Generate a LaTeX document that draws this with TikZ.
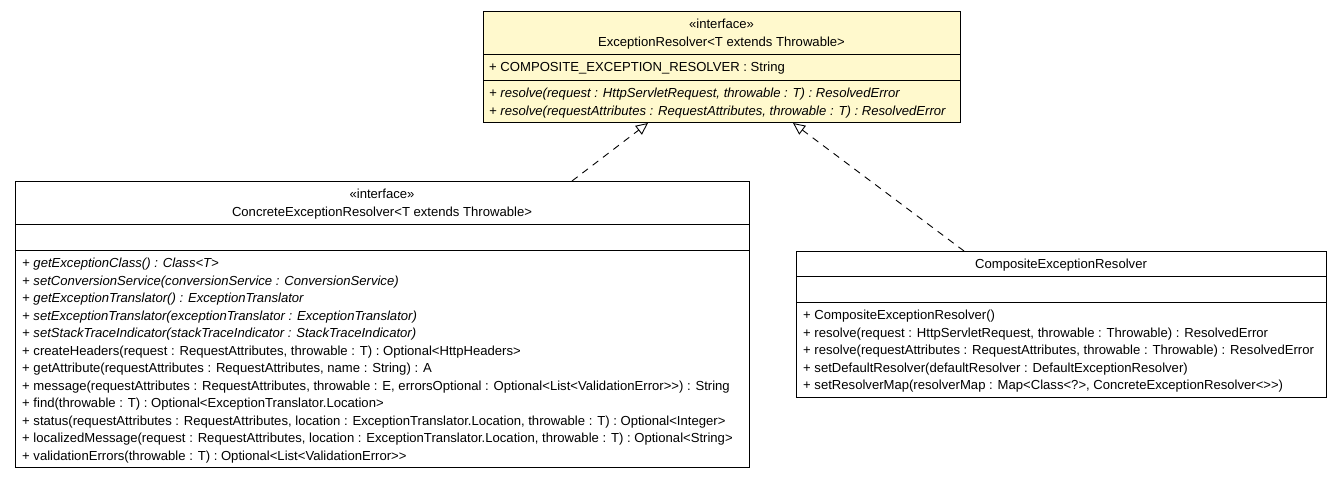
\documentclass[tikz,border=0pt]{standalone}
\usepackage{fontspec}
\setmainfont{Liberation Sans}
\usetikzlibrary{arrows.meta}
\definecolor{umlyellow}{RGB}{255,249,205}
\newcommand{\umlfont}{\fontsize{13.1}{17.5}\selectfont}

\begin{document}
\begin{tikzpicture}[x=1pt, y=-1pt,
		classbox/.style={draw=black, line width=1pt, anchor=north west, inner sep=0pt},
		sep/.style={line width=1pt},
		title/.style={anchor=north, inner sep=0pt, align=center, font=\umlfont},
		members/.style={anchor=north west, inner sep=0pt, align=left, font=\umlfont},
		realize/.style={line width=0.9pt, dash pattern=on 7pt off 6pt, -{Triangle[open, length=12pt, width=11pt]}}]
			%%%%% START %%%%%
			\useasboundingbox (0,0) rectangle (1340,477);
			
			% ExceptionResolver
			\node[classbox, fill=umlyellow, minimum width=477pt, minimum height=111pt] (resolver) at (483,11) {};
			\draw[sep] (resolver.west |- 0,54) -- (resolver.east |- 0,54);
			\draw[sep] (resolver.west |- 0,80) -- (resolver.east |- 0,80);
			\node[title] (resolvertitle) at (721.5,16.5) {\strut«interface»\\\strut ExceptionResolver<T extends Throwable>};
			\node[members] (resolverattr) at (489,59.5) {\strut+ COMPOSITE\_EXCEPTION\_RESOLVER : String};
			\node[members, font=\umlfont\itshape] (resolverops) at (489,85.5) {%
				\strut+ resolve(request : HttpServletRequest, throwable : T) : ResolvedError\\
				\strut+ resolve(requestAttributes : RequestAttributes, throwable : T) : ResolvedError};
			
			% ConcreteExceptionResolver
			\node[classbox, fill=white, minimum width=734pt, minimum height=286pt] (concrete) at (15,181) {};
			\draw[sep] (concrete.west |- 0,224) -- (concrete.east |- 0,224);
			\draw[sep] (concrete.west |- 0,250) -- (concrete.east |- 0,250);
			\node[title] (concretetitle) at (382,186.5) {\strut«interface»\\\strut ConcreteExceptionResolver<T extends Throwable>};
			\node[members] (concreteops) at (22,255.5) {%
				\strut\textit{+ getExceptionClass() : Class<T>}\\
				\strut\textit{+ setConversionService(conversionService : ConversionService)}\\
				\strut\textit{+ getExceptionTranslator() : ExceptionTranslator}\\
				\strut\textit{+ setExceptionTranslator(exceptionTranslator : ExceptionTranslator)}\\
				\strut\textit{+ setStackTraceIndicator(stackTraceIndicator : StackTraceIndicator)}\\
				\strut+ createHeaders(request : RequestAttributes, throwable : T) : Optional<HttpHeaders>\\
				\strut+ getAttribute(requestAttributes : RequestAttributes, name : String) : A\\
				\strut+ message(requestAttributes : RequestAttributes, throwable : E, errorsOptional : Optional<List<ValidationError>{}>) : String\\
				\strut+ find(throwable : T) : Optional<ExceptionTranslator.Location>\\
				\strut+ status(requestAttributes : RequestAttributes, location : ExceptionTranslator.Location, throwable : T) : Optional<Integer>\\
				\strut+ localizedMessage(request : RequestAttributes, location : ExceptionTranslator.Location, throwable : T) : Optional<String>\\
				\strut+ validationErrors(throwable : T) : Optional<List<ValidationError>{}>};
			
			% CompositeExceptionResolver
			\node[classbox, fill=white, minimum width=530pt, minimum height=146pt] (composite) at (796,251) {};
			\draw[sep] (composite.west |- 0,276) -- (composite.east |- 0,276);
			\draw[sep] (composite.west |- 0,302) -- (composite.east |- 0,302);
			\node[title] (compositetitle) at (1061,256.5) {\strut CompositeExceptionResolver};
			\node[members] (compositeops) at (803,307.5) {%
				\strut+ CompositeExceptionResolver()\\
				\strut+ resolve(request : HttpServletRequest, throwable : Throwable) : ResolvedError\\
				\strut+ resolve(requestAttributes : RequestAttributes, throwable : Throwable) : ResolvedError\\
				\strut+ setDefaultResolver(defaultResolver : DefaultExceptionResolver)\\
				\strut+ setResolverMap(resolverMap : Map<Class<?>, ConcreteExceptionResolver<>{}>)};
			
			% realizations
			\draw[realize] (concrete.north -| 572,0) -- (resolver.south -| 648,0);
			\draw[realize] (composite.north -| 964,0) -- (resolver.south -| 793,0);
			%%%%% END %%%%%
		\end{tikzpicture}
\end{document}
